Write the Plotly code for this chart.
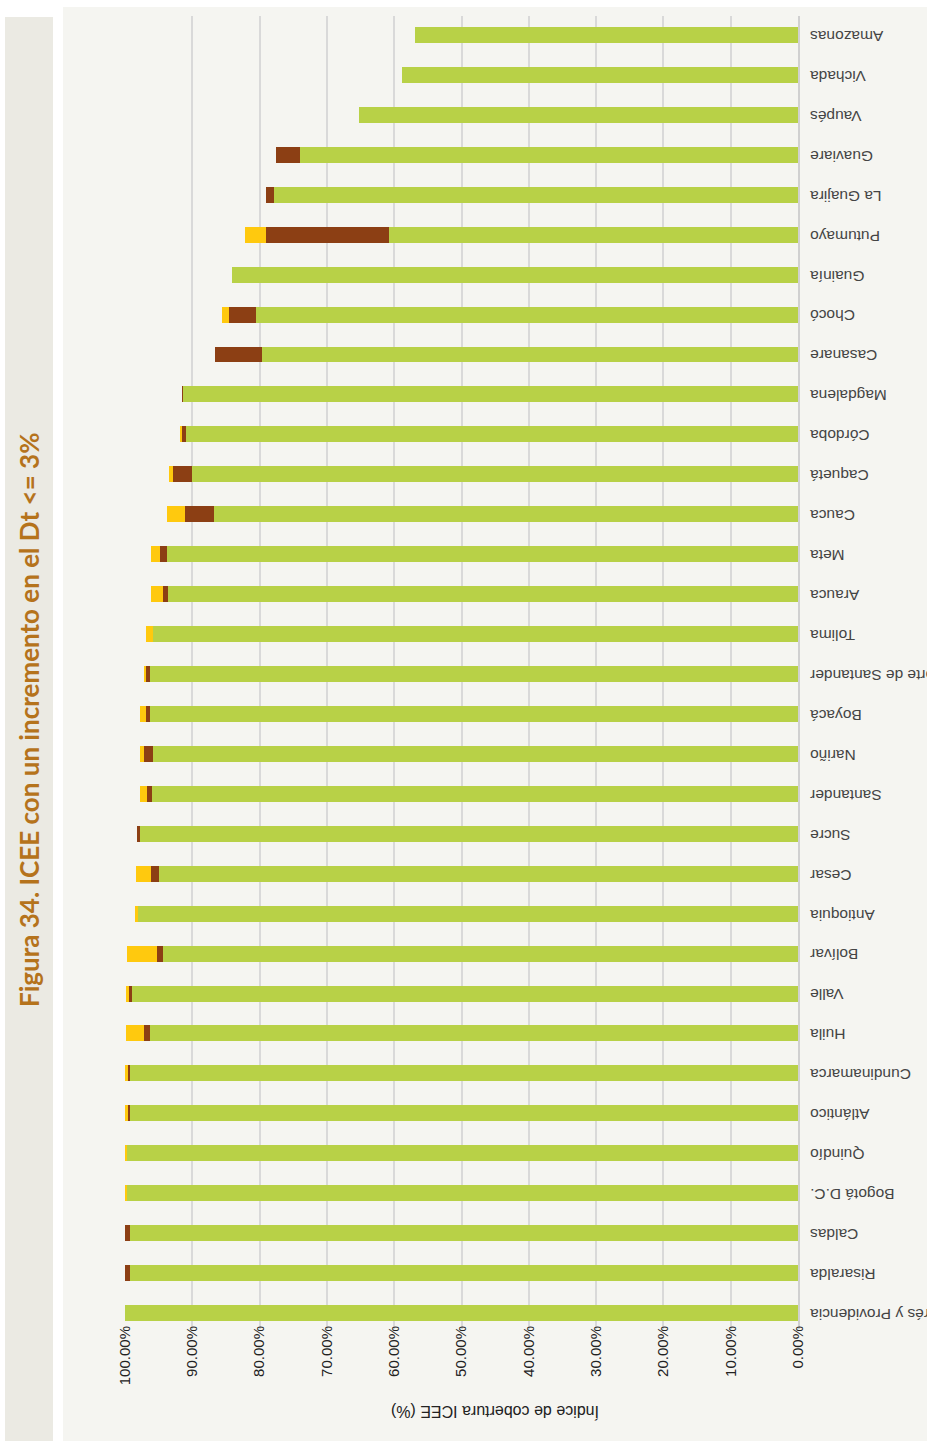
import plotly.graph_objects as go

categories = ["Amazonas", "Vichada", "Vaupés", "Guaviare", "La Guajira", "Putumayo",
              "Guainía", "Chocó", "Casanare", "Magdalena", "Córdoba", "Caquetá",
              "Cauca", "Meta", "Arauca", "Tolima", "Norte de Santander", "Boyacá",
              "Nariño", "Santander", "Sucre", "Cesar", "Antioquia", "Bolívar",
              "Valle", "Huila", "Cundinamarca", "Atlántico", "Quindío", "Bogotá D.C.",
              "Caldas", "Risaralda", "San Andrés y Providencia"]

icee_base = [56.9, 58.9, 65.2, 74.0, 77.9, 60.8, 84.1, 80.5, 79.6, 91.4, 90.9, 90.1,
             86.8, 93.8, 93.6, 95.8, 96.3, 96.3, 95.9, 96.0, 97.8, 94.9, 98.1, 94.3,
             98.9, 96.3, 99.2, 99.2, 99.7, 99.7, 99.3, 99.3, 100.0]

incremento_1 = [0, 0, 0, 3.5, 1.2, 18.2, 0, 4.0, 7.1, 0.1, 0.6, 2.8,
                4.3, 1.0, 0.7, 0, 0.6, 0.6, 1.3, 0.8, 0.4, 1.2, 0, 1.0,
                0.5, 0.9, 0.3, 0.3, 0, 0, 0.7, 0.7, 0]

incremento_2 = [0, 0, 0, 0, 0, 3.2, 0, 1.1, 0, 0, 0.3, 0.6,
                2.7, 1.3, 1.8, 1.1, 0.3, 0.8, 0.6, 1.0, 0, 2.3, 0.4, 4.4,
                0.4, 2.6, 0.5, 0.5, 0.3, 0.3, 0.3, 0.3, 0]

x_ticks = list(range(0, 101, 10))

W, H = 927, 1441
L, R, T, B = 125, 798, 16, 1329

def px(x):
    return (x - L) / (R - L)

def py(y):
    return (B - y) / (B - T)

fig = go.Figure()
fig.add_bar(y=categories, x=icee_base, orientation="h", marker_color="#b8d147",
            name="ICEE", showlegend=False)
fig.add_bar(y=categories, x=incremento_1, orientation="h", marker_color="#8c3f14",
            name="Incremento 1", showlegend=False)
fig.add_bar(y=categories, x=incremento_2, orientation="h", marker_color="#ffc90e",
            name="Incremento 2", showlegend=False)

fig.update_layout(
    template="none",
    barmode="stack",
    bargap=0.6,
    width=W, height=H,
    margin=dict(l=L, r=W - R, t=T, b=H - B, pad=0),
    paper_bgcolor="white",
    plot_bgcolor="rgba(0,0,0,0)",
    font=dict(family="Liberation Sans, Arial, sans-serif", color="#222222"),
    xaxis=dict(range=[100, 0], tickvals=x_ticks, ticktext=[f"{v:.2f}%" for v in x_ticks],
               tickangle=-90, showgrid=True, gridcolor="#d9d9d9", gridwidth=2,
               zeroline=False, showline=False, ticks="", automargin=False,
               ticklabelstandoff=-7, tickfont=dict(size=15)),
    yaxis=dict(categoryorder="array", categoryarray=categories, range=[32.4, -0.475],
               side="right", tickangle=180, showgrid=False, zeroline=False,
               showline=True, linecolor="#d0d0d0", linewidth=2, ticks="",
               ticklabelposition="inside", ticklabelstandoff=-12, ticklabelshift=-6,
               automargin=False, tickfont=dict(size=15.5)),
    shapes=[
        dict(type="rect", xref="paper", yref="paper", x0=px(63), x1=px(927),
             y0=py(1441), y1=py(7), fillcolor="#f5f5f1", line_width=0, layer="below"),
        dict(type="rect", xref="paper", yref="paper", x0=px(5), x1=px(53),
             y0=py(1441), y1=py(17), fillcolor="#ebeae3", line_width=0, layer="below"),
    ],
    annotations=[
        dict(text="<b>Figura 34. ICEE con un incremento en el Dt <= 3%</b>",
             xref="paper", yref="paper", x=px(29), y=py(720), textangle=-90,
             showarrow=False, font=dict(family="Lato", size=26, color="#b5731c"),
             xanchor="center", yanchor="middle"),
        dict(text="Índice de cobertura ICEE (%)", xref="paper", yref="paper",
             x=px(495), y=py(1412), textangle=180, showarrow=False,
             font=dict(size=16), xanchor="center", yanchor="middle"),
    ],
)

fig.write_html("out.html", config={"displayModeBar": False},
               post_script="document.body.style.margin='0px';document.body.style.overflow='hidden';")
